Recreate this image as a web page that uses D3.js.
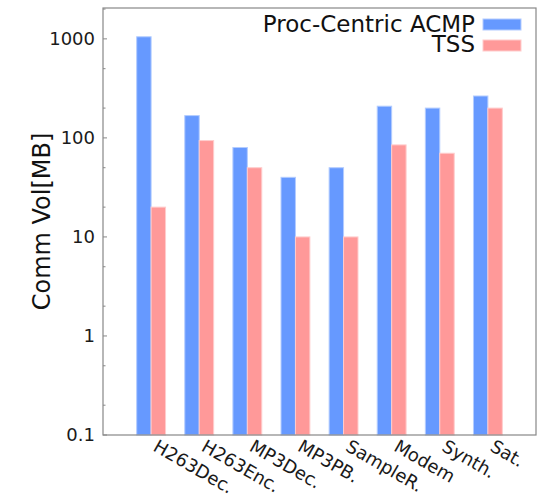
<!DOCTYPE html>
<html lang="en">
<head>
    <meta charset="UTF-8">
    <title>Comm Vol bar chart</title>
    <script src="https://d3js.org/d3.v7.min.js"></script>
    <style>
        body { margin: 0; background: #fff; }
        svg { font-family: "DejaVu Sans", sans-serif; }
        .frame { fill: none; stroke: #888; stroke-width: 1.2px; }
        .tick-label { font-size: 18px; fill: #1a1a1a; }
    </style>
</head>
<body>
    <svg width="540" height="497"></svg>

    <script>
        // benchmarks and the two series (MB, log scale)
        const categories = ['H263Dec.', 'H263Enc.', 'MP3Dec.', 'MP3PB.', 'SampleR.', 'Modem', 'Synth.', 'Sat.'];
        const acmp = [1050, 168, 80, 40, 50, 209, 200, 265];
        const tss = [20, 94, 50, 10, 10, 85, 70, 200];
        const seriesNames = ['Proc-Centric ACMP', 'TSS'];
        const yTicks = [0.1, 1, 10, 100, 1000];

        const colors = ['#6699ff', '#ff9999'];
        const edges = ['#b3ccff', '#ffcccc'];

        const plotL = 103, plotR = 536, plotT = 8, plotB = 435;
        const barW = 0.3;

        const svg = d3.select('svg');

        const x = d3.scaleLinear().domain([-1, categories.length]).range([plotL, plotR]);
        const y = d3.scaleLog().domain([0.1, 2050]).range([plotB, plotT]);

        // bars
        const series = [acmp, tss];
        series.forEach((vals, s) => {
            svg.append('g').selectAll('rect')
                .data(vals)
                .enter().append('rect')
                .attr('x', (d, i) => x(i - barW + s * barW))
                .attr('width', x(barW) - x(0))
                .attr('y', d => y(d))
                .attr('height', d => y(0.1) - y(d))
                .attr('fill', colors[s])
                .attr('stroke', edges[s])
                .attr('stroke-width', 1);
        });

        // y ticks (inward), major + minor at 2 and 5
        const minor = [];
        yTicks.forEach(t => { if (t * 2 < 2050) minor.push(t * 2); if (t * 5 < 2050) minor.push(t * 5); });

        svg.append('g').selectAll('line.major')
            .data(yTicks)
            .enter().append('line')
            .attr('x1', plotL).attr('x2', plotL + 4)
            .attr('y1', d => y(d)).attr('y2', d => y(d))
            .attr('stroke', '#888');

        svg.append('g').selectAll('line.minor')
            .data(minor)
            .enter().append('line')
            .attr('x1', plotL).attr('x2', plotL + 2.5)
            .attr('y1', d => y(d)).attr('y2', d => y(d))
            .attr('stroke', '#888');

        svg.append('g').selectAll('text')
            .data(yTicks)
            .enter().append('text')
            .attr('class', 'tick-label')
            .attr('x', plotL - 8)
            .attr('y', d => y(d))
            .attr('dy', '0.36em')
            .attr('text-anchor', 'end')
            .text(d => d3.format('~g')(d));

        // x labels, rotated
        svg.append('g').selectAll('text')
            .data(categories)
            .enter().append('text')
            .attr('class', 'tick-label')
            .attr('transform', (d, i) => `translate(${x(i) + 1},${plotB + 15}) rotate(30)`)
            .text(d => d);

        // frame
        svg.append('rect')
            .attr('class', 'frame')
            .attr('x', plotL).attr('y', plotT)
            .attr('width', plotR - plotL).attr('height', plotB - plotT);

        // y axis title
        svg.append('text')
            .attr('transform', `translate(50,${(plotT + plotB) / 2}) rotate(-90)`)
            .attr('text-anchor', 'middle')
            .style('font-size', '24px')
            .attr('fill', '#111')
            .text('Comm Vol[MB]');

        // legend
        const legend = svg.append('g');
        seriesNames.forEach((name, s) => {
            legend.append('text')
                .attr('x', 475)
                .attr('y', 32 + s * 20)
                .attr('text-anchor', 'end')
                .style('font-size', '23px')
                .attr('fill', '#111')
                .text(name);
            legend.append('rect')
                .attr('x', 483).attr('y', 19 + s * 21)
                .attr('width', 38).attr('height', 11)
                .attr('fill', colors[s])
                .attr('stroke', edges[s]);
        });
    </script>
</body>
</html>
